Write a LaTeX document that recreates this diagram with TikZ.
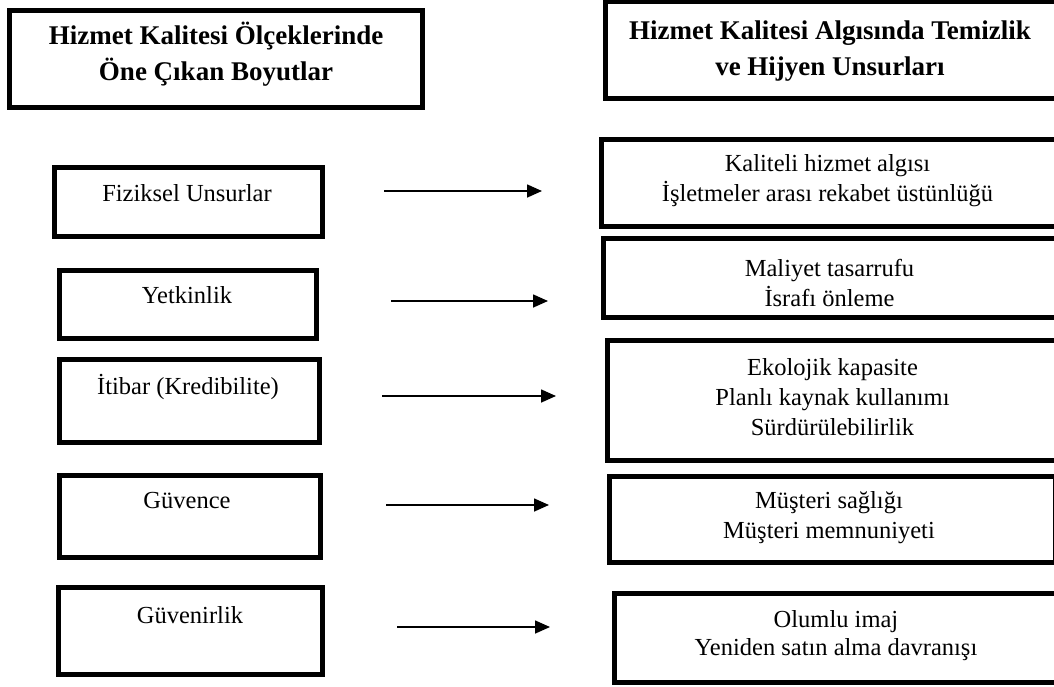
\documentclass[tikz,border=0pt]{standalone}
\usepackage{fontspec}
\setmainfont{Liberation Serif}
\usetikzlibrary{arrows.meta}
\tikzset{
  boxshape/.style={draw=black, line width=5pt, rectangle, inner sep=0pt, fill=none},
  titletext/.style={inner sep=0pt, align=center, font=\fontsize{27}{36}\selectfont\bfseries},
  bodytext/.style={inner sep=0pt, align=center, font=\fontsize{24.5}{30}\selectfont},
  flowarrow/.style={line width=1.6pt, -{Triangle[length=15pt,width=13pt]}}
}
\begin{document}
\begin{tikzpicture}[x=1pt, y=-1pt]
\useasboundingbox (0,0) rectangle (1054,686);
\clip (0,0) rectangle (1054,686);
\fill[white] (0,0) rectangle (1054,686);
% left column boxes
\node[boxshape, minimum width=413pt, minimum height=97pt] (lt) at (216,59) {};
\node[boxshape, minimum width=268pt, minimum height=69pt] (l1) at (188.5,202) {};
\node[boxshape, minimum width=257pt, minimum height=68pt] (l2) at (188,304.5) {};
\node[boxshape, minimum width=260pt, minimum height=83pt] (l3) at (189.5,401) {};
\node[boxshape, minimum width=261pt, minimum height=82pt] (l4) at (190,516.5) {};
\node[boxshape, minimum width=264pt, minimum height=87pt] (l5) at (190.5,631) {};
% right column boxes (cut by the right edge)
\node[boxshape, minimum width=454pt, minimum height=97pt] (rt) at (832.5,50) {};
\node[boxshape, minimum width=458pt, minimum height=87pt] (r1) at (830.5,183) {};
\node[boxshape, minimum width=456pt, minimum height=79pt] (r2) at (831.5,278) {};
\node[boxshape, minimum width=452pt, minimum height=120pt] (r3) at (833.5,400.5) {};
\node[boxshape, minimum width=446pt, minimum height=86pt] (r4) at (832.5,519.5) {};
\node[boxshape, minimum width=445pt, minimum height=89pt] (r5) at (837,638) {};
% texts
\node[titletext] (ltt) at (216,54.5) {Hizmet Kalitesi Ölçeklerinde\\Öne Çıkan Boyutlar};
\node[titletext] (rtt) at (830,51.5) {Hizmet Kalitesi Algısında Temizlik\\ve Hijyen Unsurları};
\node[bodytext] (l1t) at (187,193) {Fiziksel Unsurlar};
\node[bodytext] (l2t) at (187,295.5) {Yetkinlik};
\node[bodytext] (l3t) at (188,386.5) {İtibar (Kredibilite)};
\node[bodytext] (l4t) at (187,500.5) {Güvence};
\node[bodytext] (l5t) at (190,615.5) {Güvenirlik};
\node[bodytext] (r1t) at (827.5,181) {Kaliteli hizmet algısı\\İşletmeler arası rekabet üstünlüğü};
\node[bodytext] (r2t) at (829.5,282.5) {Maliyet tasarrufu\\İsrafı önleme};
\node[bodytext] (r3t) at (832.5,397) {Ekolojik kapasite\\Planlı kaynak kullanımı\\Sürdürülebilirlik};
\node[bodytext] (r4t) at (829,517.5) {Müşteri sağlığı\\Müşteri memnuniyeti};
\node[bodytext, font=\fontsize{24.5}{28}\selectfont] (r5t) at (836,636) {Olumlu imaj\\Yeniden satın alma davranışı};
% arrows
\coordinate (a1s) at (384,191); \coordinate (a1e) at (542,191);
\coordinate (a2s) at (391,301); \coordinate (a2e) at (548,301);
\coordinate (a3s) at (382,396); \coordinate (a3e) at (556,396);
\coordinate (a4s) at (386,505); \coordinate (a4e) at (549,505);
\coordinate (a5s) at (397,627); \coordinate (a5e) at (550,627);
\draw[flowarrow] (a1s) -- (a1e);
\draw[flowarrow] (a2s) -- (a2e);
\draw[flowarrow] (a3s) -- (a3e);
\draw[flowarrow] (a4s) -- (a4e);
\draw[flowarrow] (a5s) -- (a5e);
\end{tikzpicture}
\end{document}
